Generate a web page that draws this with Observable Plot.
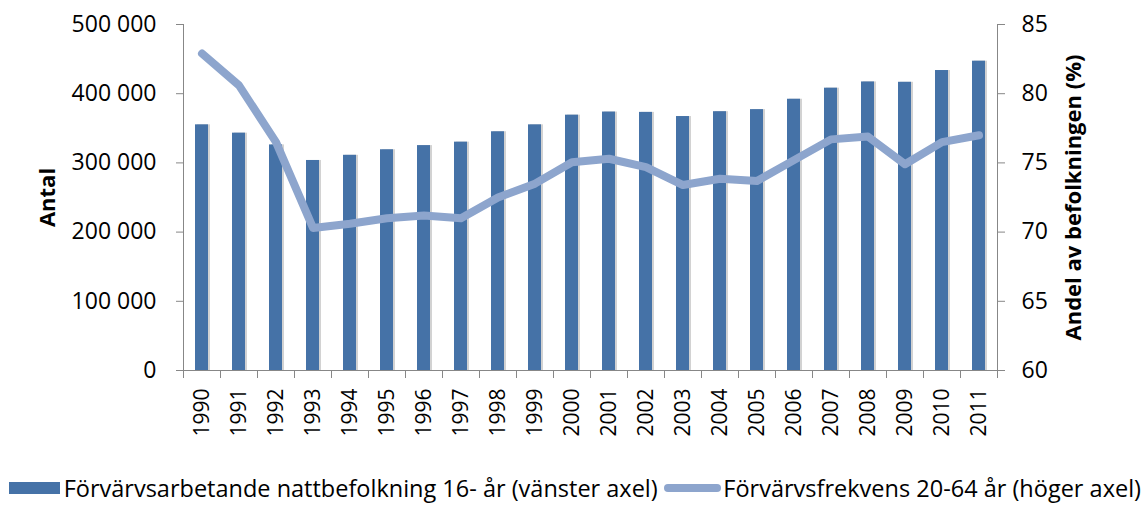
<!DOCTYPE html>
<html><head><meta charset="utf-8">
<script src="https://cdn.jsdelivr.net/npm/d3@7"></script>
<script src="https://cdn.jsdelivr.net/npm/@observablehq/plot@0.6"></script>
<style>
body{margin:0;background:#fff;font-family:"Open Sans",sans-serif;}
#chart svg{display:block;}
#legend{height:35px;display:flex;align-items:center;font-size:23.5px;color:#000;white-space:nowrap;}
.sw1{display:inline-block;width:51px;height:12px;background:#4572a7;margin-left:9px;margin-right:4px;}
.sw2{display:inline-block;width:58px;height:8px;border-radius:4px;background:#8da5cd;margin-left:6px;margin-right:2px;}
</style></head><body>
<div id="chart"></div>
<div id="legend"></div>
<script>
const years = [1990,1991,1992,1993,1994,1995,1996,1997,1998,1999,2000,2001,2002,2003,2004,2005,2006,2007,2008,2009,2010,2011];
const employed = [355000,343000,326000,303500,311000,319000,325000,330000,345000,355000,369000,373500,373000,367000,374000,377000,392000,408000,417000,416500,433500,447000];
const rate = [82.9,80.6,76.5,70.3,70.6,71.0,71.2,71.0,72.5,73.5,75.05,75.3,74.7,73.4,73.85,73.7,75.2,76.7,76.9,74.9,76.5,77.0];
const leftTicks = [0,100000,200000,300000,400000,500000];
const rightTicks = [60,65,70,75,80,85];
const leftTitle = "Antal";
const rightTitle = "Andel av befolkningen (%)";
const legendLabels = ["Förvärvsarbetande nattbefolkning 16- år (vänster axel)", "Förvärvsfrekvens 20-64 år (höger axel)"];

const data = years.map((y, i) => ({year: String(y), employed: employed[i], rate: rate[i]}));
const yMax = leftTicks[leftTicks.length - 1], rMin = rightTicks[0], rMax = rightTicks[rightTicks.length - 1];
const toLeft = v => (v - rMin) / (rMax - rMin) * yMax;
const W = 1141, H = 470, ML = 183, MR = 144, MT = 24, MB = 100;
const bw = (W - ML - MR) / years.length;
const axisColor = "#878787";
const fmt = d => d3.format(",")(d).replace(/,/g, " ");

const plot = Plot.plot({
  width: W, height: H, marginLeft: ML, marginRight: MR, marginTop: MT, marginBottom: MB,
  style: {fontFamily: "Open Sans", fontSize: "23px", color: "#000", background: "#fff"},
  x: {domain: years.map(String), paddingInner: 0.66, paddingOuter: 0.33, label: null, axis: null},
  y: {domain: [0, yMax], label: null, axis: null},
  marks: [
    Plot.barY(data, {x: "year", y: "employed", fill: "#d2d2d2", dx: 2}),
    Plot.barY(data, {x: "year", y: "employed", fill: "#4572a7"}),
    Plot.line(data, {x: "year", y: d => toLeft(d.rate), stroke: "#8da5cd", strokeWidth: 8, strokeLinecap: "round", strokeLinejoin: "round"}),
    Plot.frame({anchor: "left", stroke: axisColor}),
    Plot.frame({anchor: "right", stroke: axisColor}),
    Plot.frame({anchor: "bottom", stroke: axisColor}),
    Plot.axisY({anchor: "left", ticks: leftTicks, tickFormat: fmt, tickSize: 7, tickPadding: 20, stroke: axisColor, fill: "#000", label: null}),
    Plot.axisY({anchor: "right", ticks: rightTicks.map(toLeft), tickFormat: v => String(Math.round(rMin + v / yMax * (rMax - rMin))), tickSize: 7, tickPadding: 17, stroke: axisColor, fill: "#000", label: null}),
    Plot.axisX({anchor: "bottom", tickSize: 8, dx: -bw / 2, fill: "none", stroke: axisColor, label: null}),
    Plot.axisX({anchor: "bottom", ticks: [String(years[years.length - 1])], tickSize: 8, dx: bw / 2, fill: "none", stroke: axisColor, label: null}),
    Plot.axisX({anchor: "bottom", tickSize: 0, tickPadding: 18, tickRotate: -90, fontSize: 21, fill: "#000", label: null}),
    Plot.text([leftTitle], {frameAnchor: "left", textAnchor: "middle", dx: -136, rotate: -90, fontWeight: "bold", fontSize: 22}),
    Plot.text([rightTitle], {frameAnchor: "right", textAnchor: "middle", dx: 76, rotate: -90, fontWeight: "bold", fontSize: 22})
  ]
});
document.getElementById("chart").append(plot);

const legend = document.getElementById("legend");
legend.innerHTML = `<span class="sw1"></span><span>${legendLabels[0]}</span><span class="sw2"></span><span>${legendLabels[1]}</span>`;
</script>
</body></html>
